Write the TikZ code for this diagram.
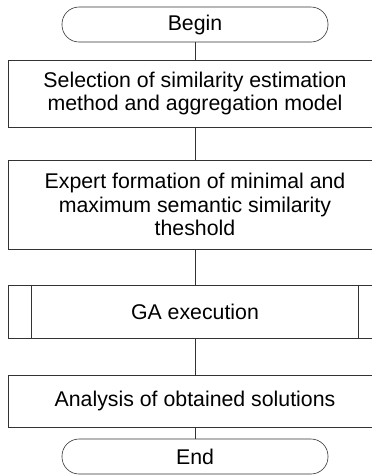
\documentclass[tikz,border=0pt]{standalone}
\usepackage{fontspec}
\setmainfont{Liberation Sans}
\usetikzlibrary{positioning}

\begin{document}
\begin{tikzpicture}[x=1pt, y=-1pt, line width=0.6pt, draw=black!80,
	every node/.style={font=\fontsize{21.3}{23.5}\selectfont, align=center, inner sep=0pt},
	terminal/.style={draw, rounded corners=17pt, minimum width=266pt, minimum height=35pt},
	process/.style={draw, minimum width=374pt}]
			\clip (0,0) rectangle (372,475);
			\node[terminal] (begin) at (195,24.5) {Begin};
			\node[process, minimum height=67pt] (select) at (195,93.5) {Selection of similarity estimation\\method and aggregation model};
			\node[process, minimum height=89pt] (expert) at (195,204.5) {Expert formation of minimal and\\maximum semantic similarity\\theshold};
			\node[process, minimum height=53pt] (ga) at (195,311.5) {GA execution};
			\draw ([xshift=24]ga.north west) -- ([xshift=24]ga.south west);
			\draw ([xshift=-24]ga.north east) -- ([xshift=-24]ga.south east);
			\node[process, minimum height=52pt] (analysis) at (195,401) {Analysis of obtained solutions};
			\node[terminal] (end) at (195,456.5) {End};
			\draw (begin) -- (select);
			\draw (select) -- (expert);
			\draw (expert) -- (ga);
			\draw (ga) -- (analysis);
			\draw (analysis) -- (end);
			\end{tikzpicture}
\end{document}
